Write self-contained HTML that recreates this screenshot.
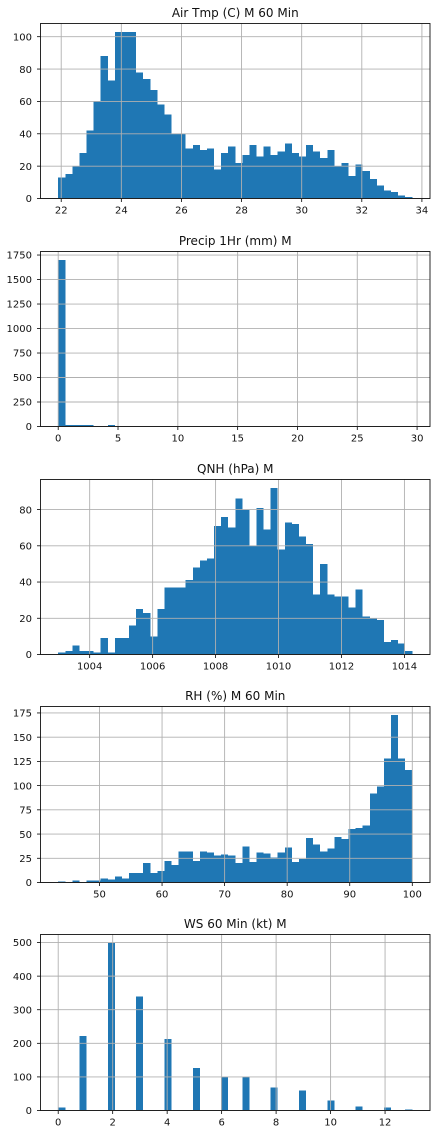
<!DOCTYPE html>
<html lang="en">
<head>
<meta charset="utf-8">
<title>Weather histograms</title>
<style>
html,body{margin:0;padding:0;background:#fff;}
#chart{display:block;width:437px;height:1134px;}
text{font-family:"DejaVu Sans",sans-serif;fill:#111;}
</style>
</head>
<body>
<svg id="chart" xmlns="http://www.w3.org/2000/svg" width="437" height="1134" viewBox="0 0 437 1134"></svg>
<script>
const airTmpCounts = [13,15,20,28,42,60,88,73,103,103,103,78,74,67,58,52,40,40,31,33,30,31,18,28,32,22,27,33,26,32,27,29,34,28,26,33,29,25,30,20,22,14,21,17,12,8,5,4,2,1];
const precipCounts = [1701,15,15,15,14,0,0,15,0,0,0,0,0,0,0,0,0,0,0,0,0,0,0,0,0,0,0,0,0,0,0,0,0,0,0,0,0,0,0,0,0,0,0,0,0,0,0,0,0,0];
const qnhCounts = [1,2,5,2,2,1,9,1,9,9,16,25,23,10,25,37,37,37,41,48,52,53,71,76,70,86,80,60,81,69,92,58,73,72,65,61,33,50,33,32,32,26,36,21,20,19,7,8,6,2];
const rhCounts = [1,0,2,0,2,2,4,3,6,4,10,10,20,10,12,22,18,32,32,22,32,31,28,29,28,20,37,21,31,30,26,31,36,21,24,46,39,32,35,47,45,55,56,59,92,99,128,173,128,116];
const wsCounts = [9,0,0,222,0,0,0,499,0,0,0,339,0,0,0,213,0,0,0,126,0,0,0,100,0,0,100,0,0,0,69,0,0,0,60,0,0,0,30,0,0,0,12,0,0,0,9,0,0,3];

const airTmpXTicks = [22,24,26,28,30,32,34];
const airTmpYTicks = [0,20,40,60,80,100];
const precipXTicks = [0,5,10,15,20,25,30];
const precipYTicks = [0,250,500,750,1000,1250,1500,1750];
const qnhXTicks = [1004,1006,1008,1010,1012,1014];
const qnhYTicks = [0,20,40,60,80];
const rhXTicks = [50,60,70,80,90,100];
const rhYTicks = [0,25,50,75,100,125,150,175];
const wsXTicks = [0,2,4,6,8,10,12];
const wsYTicks = [0,100,200,300,400,500];

const airTmpRange = [21.9,33.68];
const precipRange = [0,29.6];
const qnhRange = [1003,1014.25];
const rhRange = [43.4,100];
const wsRange = [0,13];

const NS = 'http://www.w3.org/2000/svg';
const svg = document.getElementById('chart');
const AX_LEFT = 40.5, AX_RIGHT = 430;

function mk(parent, tag, attrs, text) {
  const el = document.createElementNS(NS, tag);
  for (const k in attrs) el.setAttribute(k, attrs[k]);
  if (text !== undefined) el.textContent = text;
  parent.appendChild(el);
  return el;
}

function drawPanel(slug, title, top, bottom, counts, range, xTicks, yTicks) {
  const g = mk(svg, 'g', {});
  
  

  const span = range[1] - range[0];
  const xMin = range[0] - span * 0.05;
  const xMax = range[1] + span * 0.05;
  const yMax = Math.max.apply(null, counts) * 1.05;
  const xScale = v => AX_LEFT + (v - xMin) / (xMax - xMin) * (AX_RIGHT - AX_LEFT);
  const yScale = v => bottom - v / yMax * (bottom - top);
  const binWidth = span / counts.length;

  const bg = mk(g, 'rect', {x: AX_LEFT, y: top, width: AX_RIGHT - AX_LEFT, height: bottom - top, fill: '#fff'});
  
  

  counts.forEach((c, i) => {
    if (c <= 0) return;
    const x0 = xScale(range[0] + i * binWidth);
    const x1 = xScale(range[0] + (i + 1) * binWidth);
    const bar = mk(g, 'rect', {x: x0, y: yScale(c), width: x1 - x0, height: bottom - yScale(c), fill: '#1f77b4', 'shape-rendering': 'crispEdges'});
    
    
  });

  xTicks.forEach(t => {
    const x = xScale(t);
    const grid = mk(g, 'line', {x1: x, x2: x, y1: top, y2: bottom, stroke: '#b0b0b0', 'stroke-width': 0.9});
    
    
    const tick = mk(g, 'line', {x1: x, x2: x, y1: bottom, y2: bottom + 3.5, stroke: '#000', 'stroke-width': 0.8});
    
    
    const label = mk(g, 'text', {x: x, y: bottom + 15, 'text-anchor': 'middle', 'font-size': 10}, String(t));
    
    
  });

  yTicks.forEach(t => {
    const y = yScale(t);
    const grid = mk(g, 'line', {x1: AX_LEFT, x2: AX_RIGHT, y1: y, y2: y, stroke: '#b0b0b0', 'stroke-width': 0.9});
    
    
    const tick = mk(g, 'line', {x1: AX_LEFT - 3.5, x2: AX_LEFT, y1: y, y2: y, stroke: '#000', 'stroke-width': 0.8});
    
    
    const label = mk(g, 'text', {x: AX_LEFT - 8.5, y: y + 3.7, 'text-anchor': 'end', 'font-size': 10}, String(t));
    
    
  });

  const frame = mk(g, 'rect', {x: AX_LEFT, y: top, width: AX_RIGHT - AX_LEFT, height: bottom - top, fill: 'none', stroke: '#111', 'stroke-width': 0.9});
  
  

  const heading = mk(g, 'text', {x: (AX_LEFT + AX_RIGHT) / 2, y: top - 6.5, 'text-anchor': 'middle', 'font-size': 12}, title);
  
  
}

drawPanel('air-temp', 'Air Tmp (C) M 60 Min', 23.5, 198.5, airTmpCounts, airTmpRange, airTmpXTicks, airTmpYTicks);
drawPanel('precip', 'Precip 1Hr (mm) M', 251.5, 426.5, precipCounts, precipRange, precipXTicks, precipYTicks);
drawPanel('qnh', 'QNH (hPa) M', 479.5, 654.5, qnhCounts, qnhRange, qnhXTicks, qnhYTicks);
drawPanel('rh', 'RH (%) M 60 Min', 706.5, 882.5, rhCounts, rhRange, rhXTicks, rhYTicks);
drawPanel('wind-speed', 'WS 60 Min (kt) M', 934.5, 1110.5, wsCounts, wsRange, wsXTicks, wsYTicks);
</script>
</body>
</html>
